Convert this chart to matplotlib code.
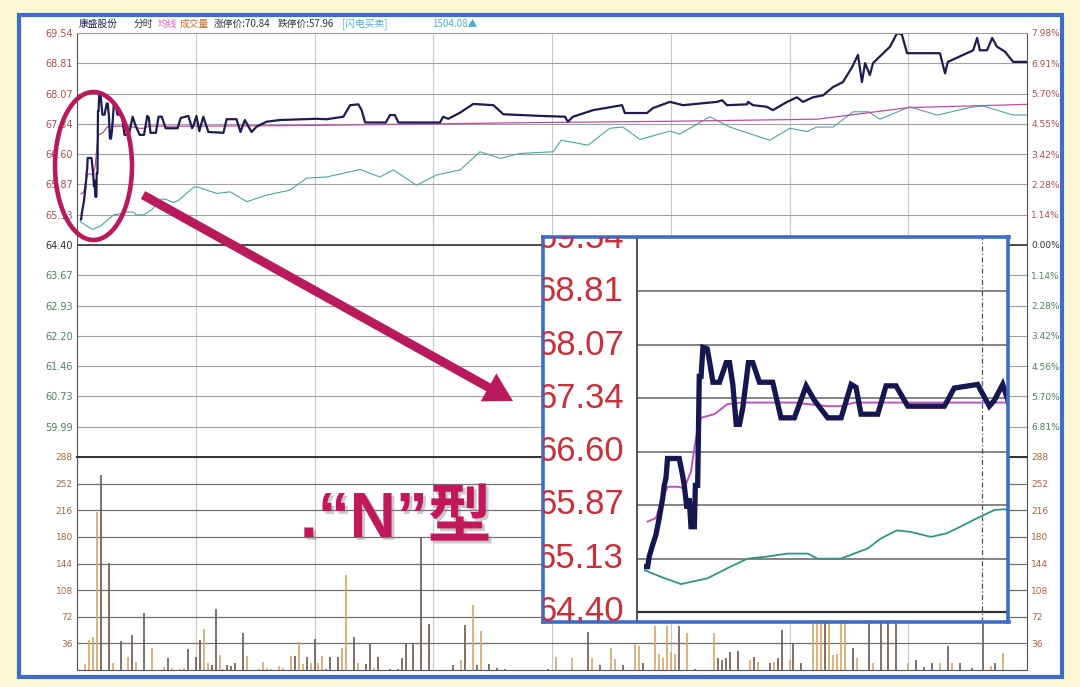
import matplotlib
matplotlib.use("Agg")
import matplotlib.pyplot as plt
import matplotlib.patheffects as pe
from matplotlib.patches import Ellipse, FancyArrow, Rectangle

# --- data (minutes after the open, prices) ---
price_t = [0.99, 1.07, 1.2, 1.48, 1.75, 2.02, 2.3, 2.43, 2.57, 2.7,
           3.66, 3.93, 4.07, 4.29, 4.48, 4.62, 4.9, 4.98, 5.17, 5.3,
           5.45, 5.6, 5.95, 6.14, 6.42, 6.96, 7.51, 7.78, 8.05, 8.33,
           8.6, 8.87, 9.14, 9.33, 9.69, 10.23, 11.32, 12.0, 13.1, 14.06,
           14.74, 15.83, 16.93, 17.75, 18.15, 18.56, 19.93, 20.61, 21.43, 22.39,
           25.4, 26.2, 28.12, 29.08, 29.49, 30.17, 30.9, 31.9, 33.2, 37.0,
           37.8, 40.3, 41.3, 42.4, 44.1, 45.4, 47.9, 51.3, 60.5, 63.1,
           67.3, 69.0, 71.1, 71.9, 72.8, 74.9, 78.0, 79.1, 80.3, 81.2,
           91.7, 92.5, 93.8, 96.8, 100.1, 105.2, 107.7, 117.0, 123.3, 124.0,
           125.3, 130.4, 137.7, 138.4, 144.0, 145.5, 149.8, 153.1, 161.7, 163.0,
           164.2, 169.3, 169.5, 170.8, 174.3, 175.8, 179.4, 181.9, 183.4, 185.9,
           188.5, 191.0, 193.5, 195.8, 197.3, 198.3, 199.1, 200.3, 201.1, 205.4,
           207.2, 208.4, 209.7, 218.0, 219.3, 220.0, 226.4, 227.4, 228.1, 229.9,
           231.2, 232.4, 234.4, 236.5, 240.0]
price_v = [65.02, 65.02, 65.16, 65.32, 65.46, 65.69, 65.96, 66.14, 66.24, 66.51,
           66.51, 66.28, 66.14, 65.82, 65.96, 65.57, 65.57, 66.14, 66.14, 67.64,
           67.64, 68.04, 68.02, 67.85, 67.56, 67.56, 67.83, 67.83, 67.53, 66.98,
           66.98, 67.21, 67.58, 67.83, 67.83, 67.56, 67.56, 67.07, 67.07, 67.51,
           67.31, 67.07, 67.07, 67.53, 67.49, 67.12, 67.12, 67.51, 67.51, 67.23,
           67.23, 67.48, 67.53, 67.23, 67.31, 67.53, 67.16, 67.51, 67.14, 67.12,
           67.45, 67.45, 67.14, 67.43, 67.14, 67.27, 67.39, 67.43, 67.46, 67.45,
           67.51, 67.79, 67.81, 67.67, 67.37, 67.37, 67.37, 67.55, 67.55, 67.37,
           67.37, 67.51, 67.46, 67.61, 67.82, 67.79, 67.57, 67.53, 67.51, 67.39,
           67.51, 67.67, 67.79, 67.60, 67.60, 67.72, 67.87, 67.79, 67.87, 67.91,
           67.79, 67.81, 67.87, 67.79, 67.75, 67.67, 67.87, 67.98, 67.87, 67.98,
           68.03, 68.23, 68.35, 68.71, 69.01, 68.35, 68.81, 68.52, 68.81, 69.21,
           69.54, 69.50, 69.05, 69.05, 68.56, 68.84, 69.12, 69.42, 69.12, 69.12,
           69.42, 69.21, 69.09, 68.84, 68.84]

avg_t = [1.07, 1.75, 2.16, 2.7, 3.52, 4.07, 4.62, 5.03, 5.44, 6.53, 7.62, 8.71,
         13.1, 15.8, 16.9, 18.0, 30.2, 60.0, 117.0, 150.0, 187.0, 210.0, 240.0]
avg_v = [65.64, 65.69, 65.91, 66.12, 66.12, 66.10, 66.33, 66.79, 67.07, 67.12, 67.26, 67.28,
         67.28, 67.23, 67.23, 67.28, 67.28, 67.30, 67.37, 67.40, 67.45, 67.73, 67.81]

idx_t = [0.85, 2.16, 3.8, 5.98, 7.62, 9.25, 10.9, 12.5, 14.2, 15.0,
         16.9, 18.0, 19.1, 20.2, 21.5, 22.6, 24.3, 25.6, 26.7, 28.1,
         29.5, 30.3, 35.3, 38.7, 42.9, 47.9, 53.8, 58.0, 63.1, 71.5,
         76.5, 79.9, 85.8, 90.9, 96.8, 101.8, 106.9, 111.9, 120.3, 122.3,
         129.1, 134.6, 137.9, 142.2, 149.8, 152.3, 159.9, 164.9, 175.0, 180.1,
         184.4, 186.9, 191.0, 196.1, 200.0, 202.8, 210.4, 217.3, 226.4, 229.0,
         236.5, 240.0]
idx_v = [64.97, 64.88, 64.78, 64.86, 65.00, 65.13, 65.16, 65.20, 65.20, 65.13,
         65.13, 65.20, 65.27, 65.41, 65.52, 65.50, 65.43, 65.48, 65.57, 65.69,
         65.80, 65.81, 65.65, 65.69, 65.45, 65.61, 65.73, 66.02, 66.05, 66.23,
         66.05, 66.22, 65.85, 66.10, 66.22, 66.66, 66.50, 66.62, 66.66, 66.94,
         66.82, 67.23, 67.26, 66.96, 67.16, 67.09, 67.51, 67.26, 66.94, 67.23,
         67.15, 67.26, 67.26, 67.63, 67.63, 67.45, 67.75, 67.55, 67.75, 67.77,
         67.55, 67.55]

vol_t = [2, 3, 4, 5, 6, 8, 9, 11, 13, 14,
         15, 17, 19, 22, 23, 24, 26, 27, 28, 30,
         31, 32, 33, 34, 35, 36, 37, 38, 39, 40,
         42, 43, 46, 47, 48, 49, 51, 52, 54, 55,
         56, 57, 58, 59, 60, 61, 62, 63, 64, 66,
         67, 68, 70, 71, 73, 74, 75, 76, 79, 81,
         82, 83, 85, 87, 89, 95, 97, 98, 100, 101,
         102, 104, 106, 108, 119, 121, 125, 129, 130, 132,
         135, 136, 138, 141, 142, 143, 146, 147, 148, 149,
         150, 151, 152, 154, 156, 161, 162, 163, 164, 165,
         167, 170, 171, 172, 175, 176, 177, 178, 180, 181,
         183, 186, 187, 188, 189, 190, 191, 192, 193, 194,
         196, 197, 200, 201, 203, 205, 207, 210, 212, 214,
         216, 218, 220, 221, 223, 226, 229, 231, 232, 234]
vol_v = [8, 40, 45, 214, 264, 145, 9, 39, 18, 47,
         11, 77, 30, 4, 16, 3, 2, 3, 28, 18,
         40, 55, 9, 7, 83, 20, 2, 7, 6, 9,
         50, 19, 2, 11, 3, 1, 5, 3, 19, 19,
         38, 8, 17, 10, 42, 9, 19, 2, 17, 17,
         30, 128, 45, 10, 8, 35, 3, 18, 2, 2,
         16, 37, 36, 180, 62, 7, 14, 61, 88, 7,
         53, 8, 3, 2, 2, 18, 16, 52, 16, 7,
         30, 15, 7, 35, 33, 9, 59, 22, 16, 60,
         25, 22, 60, 50, 2, 50, 16, 14, 16, 25,
         26, 14, 18, 11, 9, 11, 16, 54, 13, 36,
         9, 70, 68, 70, 70, 70, 20, 22, 70, 65,
         30, 16, 70, 10, 70, 68, 67, 10, 13, 4,
         9, 10, 32, 10, 10, 3, 70, 5, 10, 23]
vol_up = [1, 1, 1, 1, 0, 0, 1, 0, 1, 0,
          1, 0, 1, 1, 0, 1, 1, 1, 0, 0,
          0, 1, 1, 0, 0, 1, 1, 0, 0, 0,
          0, 1, 1, 1, 1, 1, 1, 1, 1, 0,
          1, 1, 0, 1, 0, 1, 1, 0, 0, 0,
          1, 1, 0, 1, 0, 0, 1, 0, 0, 0,
          0, 0, 0, 0, 0, 0, 1, 0, 1, 0,
          1, 0, 0, 0, 0, 1, 1, 0, 1, 0,
          1, 1, 0, 1, 1, 0, 1, 1, 1, 1,
          1, 1, 0, 1, 0, 1, 0, 0, 0, 0,
          0, 1, 0, 1, 0, 1, 0, 0, 1, 0,
          0, 1, 1, 1, 0, 1, 1, 1, 1, 1,
          0, 1, 0, 1, 0, 0, 0, 1, 0, 0,
          0, 1, 0, 1, 0, 0, 0, 1, 0, 1]

prev_close = 64.40
price_ticks = [69.54, 68.81, 68.07, 67.34, 66.60, 65.87, 65.13, 64.40,
               63.67, 62.93, 62.20, 61.46, 60.73, 59.99]
price_labels = ["69.54", "68.81", "68.07", "67.34", "66.60", "65.87", "65.13", "64.40",
                "63.67", "62.93", "62.20", "61.46", "60.73", "59.99"]
pct_labels = ["7.98%", "6.91%", "5.70%", "4.55%", "3.42%", "2.28%", "1.14%", "0.00%",
              "1.14%", "2.28%", "3.42%", "4.56%", "5.70%", "6.81%"]
vol_ticks = [288, 252, 216, 180, 144, 108, 72, 36]
inset_ticks = [69.54, 68.81, 68.07, 67.34, 66.60, 65.87, 65.13, 64.40]
inset_labels = ["69.54", "68.81", "68.07", "67.34", "66.60", "65.87", "65.13", "64.40"]

W, H = 1080, 687
NAVY = "#1c1c50"
MAG = "#b81a5c"


def box(x0, y0, x1, y1):
    # pixel box (top-left origin) -> figure fraction rect
    return [x0 / W, 1 - y1 / H, (x1 - x0) / W, (y1 - y0) / H]


def label_color(v):
    if v > prev_close:
        return "#a85050"
    if v == prev_close:
        return "#333333"
    return "#4d8060"


fig = plt.figure(figsize=(W / 100, H / 100), dpi=100, facecolor="#fcf8d4")
fig.patches.append(Rectangle((19 / W, 1 - 677 / H), 1043 / W, 662 / H,
                             transform=fig.transFigure, facecolor="white",
                             edgecolor="#3e6dc8", lw=3, zorder=-5))

# --- price panel ---
ax_p = fig.add_axes(box(77, 33, 1027, 457))
ax_p.set_xlim(0, 240)
ax_p.set_ylim(59.26, 69.54)
ax_p.set_xticks(range(0, 241, 30))
ax_p.set_xticklabels([])
ax_p.set_yticks(price_ticks)
ax_p.set_yticklabels(price_labels)
ax_p.grid(axis="y", color="#a0a0a0", lw=0.8)
ax_p.grid(axis="x", color="#c8c8c8", lw=0.8)
ax_p.axhline(prev_close, color="#404040", lw=1.3)
ax_p.tick_params(length=0, labelsize=7, pad=3)
for lab, v in zip(ax_p.get_yticklabels(), price_ticks):
    lab.set_color(label_color(v))
for s in ["left", "right"]:
    ax_p.spines[s].set_color("#555555")
ax_p.spines["top"].set_color("#a0a0a0")
ax_p.spines["bottom"].set_color("#333333")
ax_p.spines["bottom"].set_linewidth(1.3)

ax_p.plot(idx_t, idx_v, color="#4ca6a0", lw=0.8)
ax_p.plot(avg_t, avg_v, color="#c04da0", lw=0.9)
ax_p.plot(price_t, price_v, color=NAVY, lw=1.6)

ax_p2 = ax_p.twinx()
ax_p2.set_ylim(59.26, 69.54)
ax_p2.set_yticks(price_ticks)
ax_p2.set_yticklabels(pct_labels)
ax_p2.tick_params(length=0, labelsize=6.5, pad=3)
for lab, v in zip(ax_p2.get_yticklabels(), price_ticks):
    lab.set_color(label_color(v))
for s in ax_p2.spines.values():
    s.set_visible(False)

# --- volume panel ---
ax_v = fig.add_axes(box(77, 457, 1027, 670))
ax_v.set_xlim(0, 240)
ax_v.set_ylim(0, 288)
ax_v.set_xticks(range(0, 241, 30))
ax_v.set_xticklabels([])
ax_v.set_yticks(vol_ticks)
ax_v.grid(axis="y", color="#707070", lw=0.9)
ax_v.grid(axis="x", color="#c8c8c8", lw=0.8)
ax_v.tick_params(length=0, labelsize=6.5, pad=3, labelcolor="#a06a4a")
ax_v.spines["top"].set_color("#333333")
ax_v.spines["top"].set_linewidth(1.3)
for s in ["left", "right", "bottom"]:
    ax_v.spines[s].set_color("#555555")
bar_cols = ["#d9a36a" if u else "#6b5a50" for u in vol_up]
ax_v.vlines(vol_t, 0, vol_v, colors=bar_cols, lw=1.2)

ax_v2 = ax_v.twinx()
ax_v2.set_ylim(0, 288)
ax_v2.set_yticks(vol_ticks)
ax_v2.tick_params(length=0, labelsize=6.5, pad=3, labelcolor="#b06040")
for s in ax_v2.spines.values():
    s.set_visible(False)

# --- zoomed inset (first half hour, enlarged) ---
ax_in = fig.add_axes(box(542.5, 236.5, 1008.5, 621.5), zorder=5)
ax_in.set_xlim(-7.55, 30.65)
ax_in.set_ylim(64.265, 69.567)
ax_in.set_xticks([])
ax_in.set_yticks([])
for s in ax_in.spines.values():
    s.set_color("#3e6dc8")
    s.set_linewidth(2.6)
ax_in.hlines(inset_ticks[1:-1], 0.2, 30.65, color="#707070", lw=1.2)
ax_in.hlines(prev_close, 0.2, 30.65, color="#333333", lw=1.6)
ax_in.axvline(0.2, color="#444444", lw=1.3)
ax_in.axvline(28.46, color="#555555", lw=0.9, ls=(0, (4, 2, 1, 2)))
for v, lab in zip(inset_ticks, inset_labels):
    ax_in.text(-0.9, v, lab, ha="right", va="center", fontsize=25,
               color="#c8303c", family="Liberation Sans", clip_on=True)
ax_in.plot(idx_t, idx_v, color="#2f9585", lw=1.3)
ax_in.plot(avg_t, avg_v, color="#c050c8", lw=1.4)
ax_in.plot(price_t, price_v, color="#161650", lw=3.8, solid_joinstyle="miter")

# --- overlay: header, ellipse, arrow, caption ---
ax_o = fig.add_axes([0, 0, 1, 1], zorder=10)
ax_o.set_xlim(0, W)
ax_o.set_ylim(H, 0)
ax_o.axis("off")
ax_o.patch.set_visible(False)

hdr_font = ["Noto Sans CJK SC", "DejaVu Sans"]
header = [(79, "康盛股份", "#1c1c50"), (134, "分时", "#333333"), (158, "均线", "#e060c0"),
          (180, "成交量", "#c07030"), (214, "涨停价:70.84", "#333333"),
          (278, "跌停价:57.96", "#333333"), (342, "[闪电买卖]", "#4ab0c8"),
          (432, "1504.08▲", "#4ab0c8")]
for x, s, c in header:
    ax_o.text(x, 24, s, fontsize=7, color=c, va="center", ha="left", family=hdr_font)

ax_o.add_patch(Ellipse((93.5, 166), 77, 148, fill=False, ec=MAG, lw=3.3))
ax_o.add_patch(FancyArrow(143, 195, 370, 206, width=9, head_width=32, head_length=28,
                          length_includes_head=True, color=MAG, lw=0))
ax_o.text(300, 537, ".“N”型", fontsize=46, color="#c2185b", fontweight="bold",
          family=["Liberation Sans", "Noto Sans CJK SC"], ha="left", va="baseline",
          path_effects=[pe.SimplePatchShadow(offset=(2, -2), shadow_rgbFace="#888888", alpha=0.45),
                        pe.Normal()])

fig.savefig("out.png", dpi=100, facecolor=fig.get_facecolor())
